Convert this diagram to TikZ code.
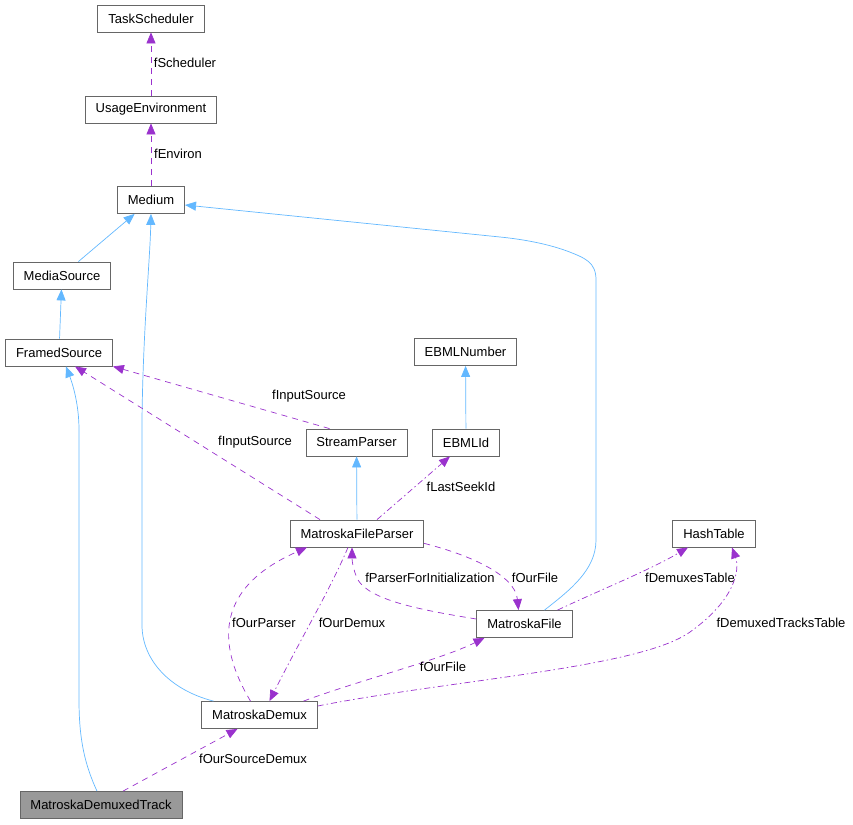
\documentclass[tikz,border=0pt]{standalone}
\usepackage{fontspec}
\setmainfont{Liberation Sans}
\usetikzlibrary{arrows.meta}
\definecolor{dBlue}{RGB}{99,184,255}
\definecolor{dPurple}{RGB}{154,50,205}
\definecolor{dBox}{RGB}{102,102,102}
\definecolor{dGray}{RGB}{153,153,153}
\tikzset{
  cls/.style={rectangle, draw=dBox, fill=white, line width=0.8pt,
              minimum height=27pt, inner xsep=10.5pt, inner ysep=0pt,
              font=\fontsize{13}{15}\selectfont},
  self/.style={cls, fill=dGray},
  inh/.style={-{Triangle[length=11pt,width=9pt]}, draw=dBlue, line width=0.7pt},
  use/.style={-{Triangle[length=11pt,width=9pt]}, draw=dPurple, line width=0.7pt,
              dash pattern=on 6pt off 5pt},
  usedot/.style={use, dash pattern=on 6pt off 3pt on 1.5pt off 3pt},
  lbl/.style={font=\fontsize{13}{15}\selectfont, inner sep=1pt},
}
\newcommand{\Cls}[3][]{%
  \node[cls,#1] (#2) {#3};}

\begin{document}
\begin{tikzpicture}[x=1pt, y=-1pt]
  \useasboundingbox (0,0) rectangle (853,824);
  % classes
  \Cls[at={(151,18.5)}]{tsch}{TaskScheduler}
  \Cls[at={(151,109.5)}]{uenv}{UsageEnvironment}
  \Cls[at={(151,200)}]{medium}{Medium}
  \Cls[at={(62,275.5)}]{msrc}{MediaSource}
  \Cls[at={(59,352.5)}]{fsrc}{FramedSource}
  \Cls[at={(465.5,352)}]{ebmlnum}{EBMLNumber}
  \Cls[at={(356.5,442.5)}]{sparser}{StreamParser}
  \Cls[at={(466,442.5)}]{ebmlid}{EBMLId}
  \Cls[at={(357,533.5)}]{mfp}{MatroskaFileParser}
  \Cls[at={(714,533.5)}]{ht}{HashTable}
  \Cls[at={(524.5,624)}]{mfile}{MatroskaFile}
  \Cls[at={(259.5,715)}]{mdemux}{MatroskaDemux}
  \Cls[self, at={(101,805)}]{mdt}{MatroskaDemuxedTrack}

  % inheritance
  \draw[inh] (msrc) -- (medium);
  \draw[inh] (fsrc) -- (msrc);
  \draw[inh] (ebmlid) -- (ebmlnum);
  \draw[inh] (mfp) -- (sparser);
  \draw[inh] ([xshift=-46]mdemux.north) .. controls (170,690) and (142,660) .. (142,625)
    -- (142,420) .. controls (143,330) and (150,260) .. (medium.south);
  \draw[inh] ([xshift=20]mfile.north) .. controls (570,590) and (596,570) .. (596,540)
    -- (596,280) .. controls (596,262) and (585,258) .. (567,251)
    .. controls (545,243) and (520,239) .. (500,237)
    -- ([yshift=-5]medium.east);
  \draw[inh] ([xshift=-4]mdt.north) .. controls (85,765) and (79,740) .. (79,700)
    -- (79,430) .. controls (79,405) and (73,385) .. ([xshift=7]fsrc.south);

  % usage
  \draw[use] (uenv) -- (tsch);
  \draw[use] (medium) -- (uenv);
  \draw[use] ([xshift=-27]sparser.north) -- (fsrc.south east);
  \draw[use] ([xshift=-37]mfp.north) -- ([xshift=16]fsrc.south);
  \draw[usedot] ([xshift=20]mfp.north) -- ([xshift=-16]ebmlid.south);
  \draw[use] ([yshift=4]mfp.south east) .. controls (470,555) and (515,575)
    .. ([xshift=-6]mfile.north);
  \draw[use] ([yshift=5]mfile.west) .. controls (420,610) and (370,600) .. (358,580)
    .. controls (353,570) and (352,560) .. ([xshift=-5]mfp.south);
  \draw[usedot] ([xshift=33]mfile.north) .. controls (600,590) and (650,570)
    .. ([xshift=-26]ht.south);
  \draw[usedot] ([yshift=9]mdemux.east) .. controls (450,680) and (640,668) .. (690,632)
    .. controls (735,600) and (740,570) .. ([xshift=18]ht.south);
  \draw[use] ([xshift=44]mdemux.north) .. controls (360,680) and (440,660)
    .. ([xshift=-40]mfile.south);
  \draw[use] ([xshift=-9]mdemux.north) .. controls (220,650) and (210,590)
    .. ([xshift=-50]mfp.south);
  \draw[usedot] ([xshift=-9]mfp.south) .. controls (330,590) and (300,640)
    .. ([xshift=10]mdemux.north);
  \draw[use] ([xshift=22]mdt.north) -- ([xshift=-22]mdemux.south);

  % member labels
  \node[lbl] (lsch) at (185,63) {fScheduler};
  \node[lbl] (lenv) at (178,154) {fEnviron};
  \node[lbl] (lin1) at (309,396) {fInputSource};
  \node[lbl] (lin2) at (255,442) {fInputSource};
  \node[lbl] (lseek) at (461,487) {fLastSeekId};
  \node[lbl] (lpfi) at (430,578) {fParserForInitialization};
  \node[lbl] (lfile1) at (535,578) {fOurFile};
  \node[lbl] (ldmx) at (690,578) {fDemuxesTable};
  \node[lbl] (ldtt) at (781,623) {fDemuxedTracksTable};
  \node[lbl] (lpar) at (264,623) {fOurParser};
  \node[lbl] (ldem) at (352,623) {fOurDemux};
  \node[lbl] (lfile2) at (443,667) {fOurFile};
  \node[lbl] (lsrc) at (253,759) {fOurSourceDemux};
\end{tikzpicture}
\end{document}
